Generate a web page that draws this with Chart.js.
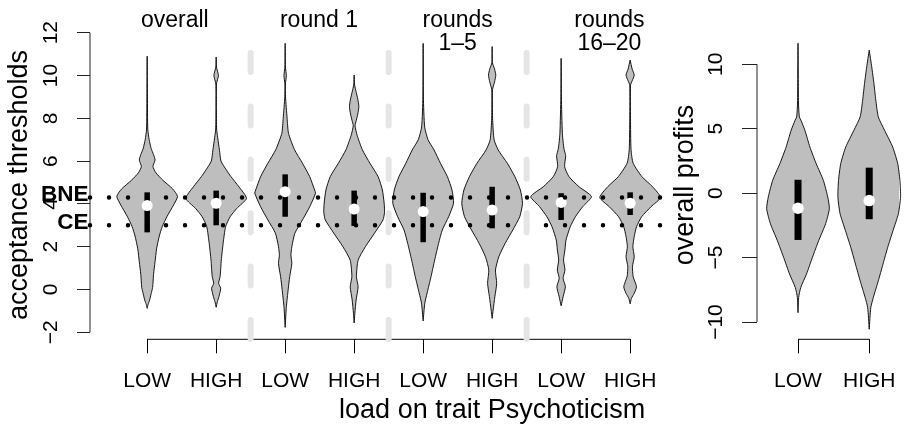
<!DOCTYPE html>
<html>
<head>
<meta charset="utf-8">
<script src="https://cdn.jsdelivr.net/npm/chart.js@4.4.1/dist/chart.umd.min.js"></script>
<style>
  body { margin: 0; background: #fff; }
  #wrap { position: relative; width: 912px; height: 429px; overflow: hidden; }
  canvas { position: absolute; top: 0; }
</style>
</head>
<body>
<div id="wrap">
  <canvas id="chart-thresholds" width="672" height="429" style="left:0"></canvas>
  <canvas id="chart-profits" width="240" height="429" style="left:672px"></canvas>
</div>
<script>
// ---- data: acceptance thresholds ----
const groups = ['LOW', 'HIGH', 'LOW', 'HIGH', 'LOW', 'HIGH', 'LOW', 'HIGH'];
const panelTitles = [['overall'], ['round 1'], ['rounds', '1\u20135'], ['rounds', '16\u201320']];
const thresholdTicks = [-2, 0, 2, 4, 6, 8, 10, 12];
const refLevels = [4.3, 3.0];
const refNames = ['BNE', 'CE'];

// violin outlines: threshold value and relative density (1 = widest)
const thrLevels = [
  [10.9, 9, 7.5, 7.0, 6.6, 6.3, 6.05, 5.75, 5.45, 5.1, 4.7, 4.35, 3.95, 3.4, 2.95, 2.5, 1.9, 1.3, 0.7, 0.1, -0.2, -0.5, -0.7, -0.88],
  [10.86, 10.4, 10.0, 9.6, 8.5, 7.5, 7.1, 6.5, 6.0, 5.6, 5.27, 4.8, 4.26, 3.79, 3.4, 2.93, 2.16, 1.38, 0.6, 0.29, 0.06, -0.34, -0.57, -0.83],
  [11.5, 10.4, 10.0, 9.6, 9, 8, 7.3, 6.53, 5.9, 5.27, 4.65, 4.5, 3.87, 3.25, 2.63, 2.0, 1.6, 1.22, 0.6, 0, -0.8, -1.77],
  [10.02, 9.6, 9.2, 8.9, 8.55, 8.2, 7.9, 7.65, 7.2, 6.53, 5.9, 5.27, 4.65, 4.0, 3.6, 3.25, 2.63, 2.0, 1.37, 0.6, 0.13, -0.49, -1.11, -1.56],
  [11.5, 9, 7.6, 7.0, 6.52, 5.9, 5.27, 4.65, 4.03, 3.4, 2.78, 2.16, 1.38, 0.6, -0.17, -0.64, -1.47],
  [11.35, 10.6, 10.3, 10.02, 9.7, 9.33, 8, 7.0, 6.52, 5.9, 5.27, 4.65, 4.03, 3.4, 2.78, 2.16, 1.53, 0.91, 0.29, -0.33, -0.96, -1.35],
  [10.8, 9, 7.3, 6.9, 6.53, 6.25, 5.74, 5.27, 4.8, 4.34, 3.87, 3.4, 2.93, 2.31, 1.85, 1.38, 0.91, 0.52, 0.13, -0.34, -0.76],
  [10.72, 10.3, 10.02, 9.75, 9.55, 8, 6.53, 5.9, 5.27, 4.8, 4.3, 3.87, 3.4, 2.93, 2.47, 2.0, 1.53, 1.07, 0.6, 0.13, -0.18, -0.41, -0.67]
];
const thrDensity = [
  [0, .008, .02, .065, .13, .21, .26, .19, .29, .52, .84, 1, .87, .65, .5, .4, .31, .26, .21, .18, .13, .08, .03, 0],
  [0, .01, .075, .01, .008, .015, .05, .11, .16, .33, .49, .75, 1, .68, .46, .31, .23, .17, .13, .08, .15, .09, .04, 0],
  [0, .008, .04, .008, .012, .065, .11, .31, .57, .81, .97, 1, .81, .57, .32, .22, .19, .22, .15, .1, .04, 0],
  [0, .01, .07, .12, .155, .12, .07, .03, .1, .27, .52, .79, .93, .99, 1, .95, .67, .37, .13, .075, .13, .065, .023, 0],
  [0, .008, .05, .16, .36, .57, .8, .95, 1, .84, .63, .51, .38, .26, .13, .054, 0],
  [0, .008, .08, .12, .08, .012, .015, .065, .2, .5, .75, .93, 1, .91, .68, .43, .22, .11, .15, .09, .033, 0],
  [0, .008, .04, .065, .1, .15, .115, .26, .59, 1, .71, .47, .3, .16, .125, .08, .125, .065, .14, .065, 0],
  [0, .067, .135, .067, .012, .012, .03, .1, .39, .74, 1, .69, .38, .21, .135, .09, .135, .077, .1, .21, .135, .044, 0]
];
const thrQ1 = [2.67, 3.0, 3.40, 2.97, 2.21, 2.86, 3.25, 3.48];
const thrQ3 = [4.54, 4.62, 5.38, 4.62, 4.52, 4.8, 4.5, 4.54];
const thrMedian = [3.92, 4.03, 4.57, 3.76, 3.64, 3.71, 4.07, 4.03];

// ---- data: overall profits ----
const profitGroups = ['LOW', 'HIGH'];
const profitTicks = [-10, -5, 0, 5, 10];
const profitLevels = [
  [11.63, 9, 7, 5.92, 5.66, 4.88, 3.58, 2.29, 0.99, -0.31, -1.21, -2.38, -3.68, -4.98, -6.28, -7.32, -8.1, -9.27],
  [11.1, 9.81, 8.52, 7.22, 5.92, 4.88, 3.58, 2.29, 0.99, -0.31, -1.6, -2.9, -4.2, -5.5, -6.8, -8.1, -8.88, -10.56]
];
const profitDensity = [
  [0, .008, .015, .043, .093, .22, .38, .58, .81, .95, 1, .88, .66, .46, .27, .087, .02, 0],
  [0, .08, .15, .21, .29, .49, .75, .91, .98, 1, .93, .76, .59, .44, .29, .13, .05, 0]
];
const profitQ1 = [-3.63, -2.02];
const profitQ3 = [1.04, 1.98];
const profitMedian = [-1.17, -0.57];

const FONT = '"Liberation Sans", Arial, sans-serif';
const HALF = 0.44;        // half width of the widest part of a violin, in x units
const VIOLIN_FILL = '#bebebe';

function minus(v) {
  return v < 0 ? '\u2212' + Math.abs(v) : String(v);
}

function violinPoints(pos, levels, dens) {
  const right = levels.map((v, i) => ({ x: pos + dens[i] * HALF, y: v }));
  const left = levels.map((v, i) => ({ x: pos - dens[i] * HALF, y: v })).reverse();
  return right.concat(left);
}

function lineSet(data, extra) {
  return Object.assign({
    data: data,
    borderColor: '#000',
    borderWidth: 1,
    pointRadius: 0,
    pointHoverRadius: 0,
    pointHitRadius: 0,
    fill: false,
    tension: 0,
    clip: false
  }, extra);
}

function violinSets(levels, density, q1, q3, med, boxWidth, dotRadius) {
  const sets = [];
  levels.forEach((lv, i) => {
    sets.push(lineSet(violinPoints(i + 1, lv, density[i]), {
      backgroundColor: VIOLIN_FILL, fill: 'shape', borderJoinStyle: 'round',
      borderWidth: 0.9, tension: 0.2, order: 10
    }));
    sets.push(lineSet([{ x: i + 1, y: q1[i] }, { x: i + 1, y: q3[i] }], {
      borderWidth: boxWidth, borderCapStyle: 'butt', order: 9
    }));
  });
  sets.push(lineSet(med.map((m, i) => ({ x: i + 1, y: m })), {
    showLine: false, pointRadius: dotRadius, pointBackgroundColor: '#fff',
    pointBorderColor: '#fff', pointBorderWidth: 0, order: 8
  }));
  return sets;
}

function axisOptions(xRange, yRange, xLabels, yTicks, yWidth, yTickLen, yPad) {
  return {
    x: {
      type: 'linear', min: xRange[0], max: xRange[1],
      afterBuildTicks: s => { s.ticks = xLabels.map((g, i) => ({ value: i + 1 })); },
      afterFit: s => { s.height = 89.7; },
      border: { display: false },
      grid: { drawOnChartArea: false, drawTicks: true, tickLength: 14, color: '#000', lineWidth: 1 },
      ticks: {
        color: '#000', font: { family: FONT, size: 21 }, padding: 15.3,
        minRotation: 0, maxRotation: 0, autoSkip: false,
        callback: v => xLabels[Math.round(v) - 1] || ''
      }
    },
    y: {
      type: 'linear', min: yRange[0], max: yRange[1],
      afterBuildTicks: s => { s.ticks = yTicks.map(v => ({ value: v })); },
      afterFit: s => { s.width = yWidth; },
      border: { display: false },
      grid: { drawOnChartArea: false, drawTicks: true, tickLength: yTickLen, color: '#222', lineWidth: 1 },
      ticks: {
        color: '#000', font: { family: FONT, size: 21 }, padding: yPad,
        minRotation: 90, maxRotation: 90, crossAlign: 'center', autoSkip: false,
        callback: v => minus(v)
      }
    }
  };
}

// ---- left chart ----
const LX = [0.1714, 8.486];
const LY = [-2.327, 12.093];

const leftSets = violinSets(thrLevels, thrDensity, thrQ1, thrQ3, thrMedian, 5.5, 5.5);
// axis lines (R style: only between first and last tick)
leftSets.push(lineSet([{ x: LX[0], y: thresholdTicks[0] }, { x: LX[0], y: thresholdTicks[thresholdTicks.length - 1] }], { borderColor: '#222', order: 7 }));
leftSets.push(lineSet([{ x: 1, y: LY[0] }, { x: groups.length, y: LY[0] }], { order: 7 }));
// BNE / CE reference lines
refLevels.forEach(v => {
  leftSets.push(lineSet([{ x: LX[0], y: v }, { x: LX[1], y: v }], {
    borderWidth: 4.5, borderDash: [0.01, 18.99], borderCapStyle: 'round', order: 6
  }));
});
// panel separators
for (let p = 1; p < panelTitles.length; p++) {
  const s = p * 2 + 0.5;
  leftSets.push(lineSet([{ x: s, y: 11.05 }, { x: s, y: LY[0] }], {
    borderColor: '#e5e5e5', borderWidth: 6, borderDash: [19, 34.4], borderCapStyle: 'round', order: 5
  }));
}

const leftText = {
  id: 'leftText',
  afterDraw(chart) {
    const ctx = chart.ctx;
    const xs = chart.scales.x, ys = chart.scales.y;
    const area = chart.chartArea;
    ctx.save();
    ctx.fillStyle = '#000';
    // panel titles
    const titleAt = [1.4, 3.49, 5.5, 7.7];
    ctx.font = '23px ' + FONT;
    ctx.textAlign = 'center';
    ctx.textBaseline = 'alphabetic';
    panelTitles.forEach((lines, i) => {
      lines.forEach((t, j) => ctx.fillText(t, xs.getPixelForValue(titleAt[i]), 26.7 + j * 23.5));
    });
    // reference line names
    ctx.font = 'bold 22.5px ' + FONT;
    ctx.textAlign = 'right';
    ctx.textBaseline = 'middle';
    refLevels.forEach((v, i) => ctx.fillText(refNames[i], area.left - 1.5, ys.getPixelForValue(v) - 3));
    // axis titles
    ctx.font = '27px ' + FONT;
    ctx.textAlign = 'center';
    ctx.textBaseline = 'alphabetic';
    ctx.fillText('load on trait Psychoticism', xs.getPixelForValue(6), 418);
    ctx.translate(27, (area.top + area.bottom) / 2);
    ctx.rotate(-Math.PI / 2);
    ctx.fillText('acceptance thresholds', 0, 0);
    ctx.restore();
  }
};

new Chart(document.getElementById('chart-thresholds'), {
  type: 'line',
  data: { datasets: leftSets },
  options: {
    responsive: false,
    animation: false,
    devicePixelRatio: 1,
    layout: { padding: { top: 30.7, left: 0, right: 0, bottom: 0 } },
    plugins: { legend: { display: false }, tooltip: { enabled: false } },
    scales: axisOptions(LX, LY, groups, thresholdTicks, 90, 13, 14.2)
  },
  plugins: [leftText]
});

// ---- right chart ----
const RX = [0.424, 2.421];
const RY = [-11.34, 12.61];

const rightSets = violinSets(profitLevels, profitDensity, profitQ1, profitQ3, profitMedian, 7, 5.8);
rightSets.push(lineSet([{ x: RX[0], y: profitTicks[0] }, { x: RX[0], y: profitTicks[profitTicks.length - 1] }], { borderColor: '#222', order: 7 }));
rightSets.push(lineSet([{ x: 1, y: RY[0] }, { x: profitGroups.length, y: RY[0] }], { order: 7 }));

const rightText = {
  id: 'rightText',
  afterDraw(chart) {
    const ctx = chart.ctx;
    const area = chart.chartArea;
    ctx.save();
    ctx.fillStyle = '#000';
    ctx.font = '27px ' + FONT;
    ctx.textAlign = 'center';
    ctx.textBaseline = 'alphabetic';
    ctx.translate(21, (area.top + area.bottom) / 2);
    ctx.rotate(-Math.PI / 2);
    ctx.fillText('overall profits', 0, 0);
    ctx.restore();
  }
};

new Chart(document.getElementById('chart-profits'), {
  type: 'line',
  data: { datasets: rightSets },
  options: {
    responsive: false,
    animation: false,
    devicePixelRatio: 1,
    layout: { padding: { top: 30.7, left: 0, right: 0, bottom: 0 } },
    plugins: { legend: { display: false }, tooltip: { enabled: false } },
    scales: axisOptions(RX, RY, profitGroups, profitTicks, 85, 15, 8.4)
  },
  plugins: [rightText]
});
</script>
</body>
</html>
